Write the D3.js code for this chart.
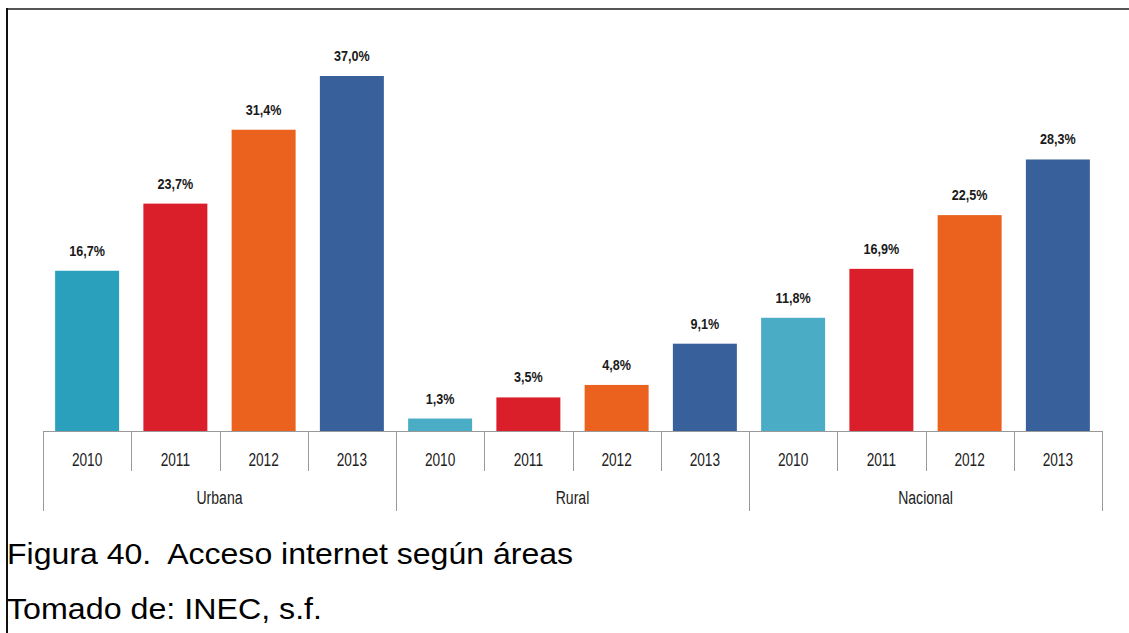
<!DOCTYPE html>
<html>
<head>
<meta charset="utf-8">
<script src="https://cdn.jsdelivr.net/npm/d3@7"></script>
<style>
  html, body { margin: 0; padding: 0; background: #fff; }
  svg { display: block; }
  .pre { white-space: pre; }
</style>
</head>
<body>
<svg id="chart" width="1129" height="633"></svg>
<script>
// Internet access by area and year (percent of population)
const areas = ["Urbana", "Rural", "Nacional"];
const years = ["2010", "2011", "2012", "2013"];
const urbana = [16.7, 23.7, 31.4, 37.0];
const rural = [1.3, 3.5, 4.8, 9.1];
const nacional = [11.8, 16.9, 22.5, 28.3];
const seriesByArea = [urbana, rural, nacional];
const captionLines = ["Figura 40.  Acceso internet según áreas", "Tomado de: INEC, s.f."];

const yearColors = { "2010": "#4bacc6", "2011": "#da1f2a", "2012": "#eb621e", "2013": "#38619c" };
const urbanFirstColor = "#2aa0bd";

const rows = [];
areas.forEach((a, i) => years.forEach((y, j) => rows.push({ area: a, year: y, key: a + "-" + y, value: seriesByArea[i][j] })));

const svg = d3.select("#chart");
const W = 1129, H = 633;

// page frame
svg.append("line").attr("x1", 6).attr("x2", W).attr("y1", 9).attr("y2", 9)
  .attr("stroke", "#555").attr("stroke-width", 2);
svg.append("line").attr("x1", 7).attr("x2", 7).attr("y1", 8).attr("y2", H)
  .attr("stroke", "#111").attr("stroke-width", 2);

const left = 43, right = 1102, base = 431;
const x = d3.scaleBand().domain(rows.map(d => d.key)).range([left, right]).padding(0);
const y = d3.scaleLinear().domain([0, 37]).range([base, 76]);
const barFrac = 0.725;
const slot = x.bandwidth();
const barW = slot * barFrac;
const barOff = (slot - barW) / 2;

const font = "'Liberation Sans', Arial, sans-serif";

// squeeze text horizontally to a condensed look
function condense(sel, k) {
  sel.each(function () {
    const len = this.getComputedTextLength();
    d3.select(this).attr("textLength", len * k).attr("lengthAdjust", "spacingAndGlyphs");
  });
}

// bars
svg.append("g").selectAll("rect").data(rows).join("rect")
  .attr("x", d => x(d.key) + barOff)
  .attr("width", barW)
  .attr("y", d => y(d.value))
  .attr("height", d => base - y(d.value))
  .attr("fill", d => (d.area === "Urbana" && d.year === "2010") ? urbanFirstColor : yearColors[d.year]);

// value labels
svg.append("g").selectAll("text").data(rows).join("text")
  .attr("x", d => x(d.key) + slot / 2)
  .attr("y", d => y(d.value) - 15)
  .attr("text-anchor", "middle")
  .attr("font-family", font)
  .attr("font-weight", "bold")
  .attr("font-size", 15)
  .attr("fill", "#1a1a1a")
  .text(d => d.value.toFixed(1).replace(".", ",") + "%")
  .call(condense, 0.84);

// axis line and category ticks
const axis = svg.append("g").attr("stroke", "#999").attr("stroke-width", 1);
axis.append("line").attr("x1", left).attr("x2", right).attr("y1", base + 0.5).attr("y2", base + 0.5);
const boundaries = rows.map(d => x(d.key)).concat([right]);
boundaries.forEach((bx, i) => {
  const isGroup = i % years.length === 0;
  axis.append("line")
    .attr("x1", Math.round(bx) + 0.5).attr("x2", Math.round(bx) + 0.5)
    .attr("y1", base).attr("y2", isGroup ? 511 : 471);
});

// year labels
svg.append("g").selectAll("text").data(rows).join("text")
  .attr("x", d => x(d.key) + slot / 2)
  .attr("y", 466)
  .attr("text-anchor", "middle")
  .attr("font-family", font)
  .attr("font-size", 18)
  .attr("fill", "#222")
  .text(d => d.year)
  .call(condense, 0.76);

// area labels
svg.append("g").selectAll("text").data(areas).join("text")
  .attr("x", (a) => {
    const keys = years.map(yr => a + "-" + yr);
    return (x(keys[0]) + x(keys[keys.length - 1]) + slot) / 2;
  })
  .attr("y", 504)
  .attr("text-anchor", "middle")
  .attr("font-family", font)
  .attr("font-size", 18)
  .attr("fill", "#222")
  .text(a => a)
  .call(condense, 0.78);

// caption
const capWidths = [566, 315];
svg.append("g").selectAll("text").data(captionLines).join("text")
  .attr("class", "pre")
  .attr("x", 7)
  .attr("y", (d, i) => i === 0 ? 564 : 619)
  .attr("font-family", font)
  .attr("font-size", 29)
  .attr("fill", "#000")
  .attr("textLength", (d, i) => capWidths[i])
  .attr("lengthAdjust", "spacingAndGlyphs")
  .text(d => d);
</script>
</body>
</html>
